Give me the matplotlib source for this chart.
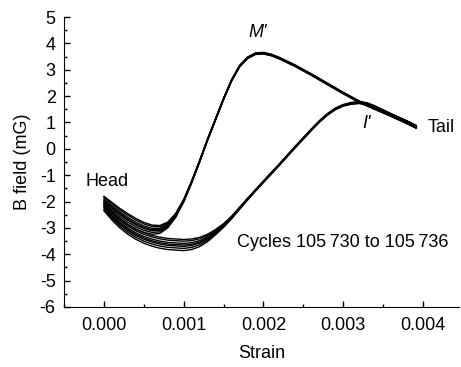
import numpy as np
import matplotlib.pyplot as plt
from matplotlib.ticker import MultipleLocator

plt.rcParams['font.family'] = ['Liberation Sans', 'DejaVu Sans']

# strain in units of 1e-3, B field in mG
up_x = [0.00, 0.10, 0.20, 0.30, 0.40, 0.50, 0.60, 0.70, 0.80, 0.90, 1.00, 1.10,
        1.20, 1.30, 1.40, 1.50, 1.60, 1.70, 1.80, 1.90, 2.00, 2.10, 2.20, 2.40,
        2.60, 2.80, 3.00, 3.20, 3.40, 3.60, 3.80, 3.92]
up_y = [-1.80, -2.03, -2.26, -2.46, -2.64, -2.79, -2.89, -2.91, -2.78, -2.45, -1.92, -1.22,
        -0.44, 0.38, 1.15, 1.92, 2.62, 3.16, 3.48, 3.64, 3.66, 3.59, 3.47, 3.18,
        2.85, 2.50, 2.15, 1.82, 1.57, 1.32, 1.06, 0.88]
up_spread = [0.30, 0.35, 0.38, 0.40, 0.40, 0.38, 0.35, 0.30, 0.22, 0.15, 0.10, 0.08,
             0.07, 0.06, 0.06, 0.06, 0.06, 0.06, 0.06, 0.06, 0.06, 0.06, 0.06, 0.06,
             0.06, 0.06, 0.06, 0.06, 0.08, 0.09, 0.10, 0.10]

low_x = [0.00, 0.10, 0.20, 0.30, 0.40, 0.50, 0.60, 0.70, 0.80, 0.90, 1.00, 1.10,
         1.20, 1.30, 1.40, 1.50, 1.60, 1.70, 1.80, 1.90, 2.00, 2.20, 2.40, 2.60,
         2.70, 2.80, 2.90, 3.00, 3.10, 3.20, 3.30, 3.40, 3.60, 3.80, 3.92]
low_y = [-2.05, -2.38, -2.66, -2.88, -3.05, -3.18, -3.28, -3.35, -3.40, -3.42, -3.44, -3.42,
         -3.36, -3.24, -3.06, -2.84, -2.56, -2.22, -1.88, -1.55, -1.22, -0.57, 0.10, 0.75,
         1.06, 1.33, 1.54, 1.68, 1.76, 1.79, 1.75, 1.63, 1.34, 1.06, 0.88]
low_spread = [0.30, 0.32, 0.34, 0.36, 0.38, 0.40, 0.41, 0.42, 0.42, 0.42, 0.42, 0.40,
              0.35, 0.28, 0.20, 0.14, 0.10, 0.08, 0.07, 0.06, 0.06, 0.06, 0.06, 0.06,
              0.06, 0.06, 0.06, 0.06, 0.07, 0.07, 0.08, 0.08, 0.09, 0.10, 0.10]

# relative offset of each of the 7 cycles (105730 ... 105736)
cycle_offset = [0.0, 0.15, 0.35, 0.5, 0.62, 0.8, 1.0]

fig = plt.figure(figsize=(4.61, 3.67), dpi=100)
ax = fig.add_axes([0.139, 0.1635, 0.856, 0.790])

for c in cycle_offset:
    xs = np.array(up_x + low_x[::-1]) * 1e-3
    ys = np.array(up_y) - c * np.array(up_spread)
    ys2 = np.array(low_y) - c * np.array(low_spread)
    ax.plot(xs, np.concatenate([ys, ys2[::-1]]), color='black', lw=1.0)

ax.set_xlim(-0.0005, 0.00445)
ax.set_ylim(-6, 5)
ax.xaxis.set_major_locator(MultipleLocator(0.001))
ax.xaxis.set_minor_locator(MultipleLocator(0.0005))
ax.yaxis.set_major_locator(MultipleLocator(1))
ax.yaxis.set_minor_locator(MultipleLocator(0.5))
ax.xaxis.set_major_formatter(plt.FuncFormatter(lambda v, p: f"{v:.3f}"))
ax.yaxis.set_major_formatter(plt.FuncFormatter(lambda v, p: f"{v:g}"))
ax.spines['top'].set_visible(False)
ax.spines['right'].set_visible(False)
ax.tick_params(which='major', direction='in', length=4, width=1, labelsize=13)
ax.tick_params(which='minor', direction='in', length=2.5, width=1)
ax.tick_params(axis='x', pad=7)
ax.tick_params(axis='y', pad=6)

ax.set_xlabel('Strain', fontsize=13, labelpad=8)
ax.set_ylabel('B field (mG)', fontsize=13, labelpad=6)

ax.text(0.00004, -1.25, 'Head', fontsize=13, ha='center', va='center')
ax.text(0.00193, 4.43, "M'", fontsize=13, style='italic', ha='center', va='center')
ax.text(0.00329, 0.98, "I'", fontsize=13, style='italic', ha='center', va='center')
ax.text(0.00406, 0.8, 'Tail', fontsize=13, ha='left', va='center')
ax.text(0.00167, -3.56, 'Cycles 105\u2009730 to 105\u2009736', fontsize=13,
        ha='left', va='center')

fig.savefig('out.png', dpi=100)
